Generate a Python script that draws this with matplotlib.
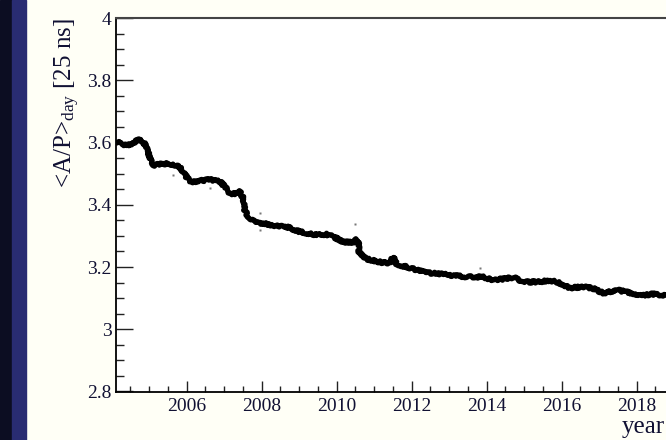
import matplotlib
matplotlib.use('Agg')
import matplotlib.pyplot as plt
from matplotlib.ticker import MultipleLocator, FuncFormatter
from matplotlib.patches import Rectangle

plt.rcParams['font.family'] = ['Liberation Serif', 'DejaVu Serif']
plt.rcParams['mathtext.fontset'] = 'custom'
plt.rcParams['mathtext.rm'] = 'Liberation Serif'
plt.rcParams['mathtext.it'] = 'Liberation Serif:italic'

# daily mean A/P
years = [2004.11, 2004.25, 2004.40, 2004.55, 2004.65, 2004.72, 2004.84, 2004.93,
         2005.02, 2005.11, 2005.30, 2005.50, 2005.70, 2005.80, 2005.91, 2006.02,
         2006.13, 2006.35, 2006.62, 2006.89, 2007.02, 2007.15, 2007.33, 2007.42,
         2007.51, 2007.55, 2007.64, 2007.78, 2007.95, 2008.31, 2008.67, 2009.02,
         2009.38, 2009.73, 2009.91, 2010.18, 2010.44, 2010.53, 2010.57, 2010.60,
         2010.71, 2010.80, 2011.15, 2011.42, 2011.50, 2011.60, 2011.69, 2012.04,
         2012.40, 2012.58, 2013.02, 2013.47, 2013.91, 2014.18, 2014.53, 2014.71,
         2014.98, 2015.33, 2015.69, 2015.87, 2016.22, 2016.58, 2016.84, 2017.11,
         2017.47, 2017.73, 2018.09, 2018.44, 2018.78, 2018.95]
ap_day = [3.605, 3.595, 3.590, 3.597, 3.605, 3.612, 3.602, 3.586,
          3.549, 3.527, 3.530, 3.533, 3.527, 3.522, 3.506, 3.485,
          3.472, 3.477, 3.481, 3.474, 3.458, 3.436, 3.436, 3.442,
          3.420, 3.383, 3.361, 3.350, 3.342, 3.334, 3.329, 3.313,
          3.305, 3.305, 3.297, 3.281, 3.278, 3.288, 3.285, 3.248,
          3.232, 3.226, 3.216, 3.211, 3.232, 3.210, 3.206, 3.194,
          3.181, 3.180, 3.174, 3.168, 3.168, 3.158, 3.163, 3.167,
          3.152, 3.152, 3.157, 3.152, 3.133, 3.136, 3.131, 3.116,
          3.126, 3.120, 3.109, 3.113, 3.109, 3.108]

# isolated days away from the band
out_years = [2005.63, 2006.62, 2007.95, 2007.95, 2010.49, 2013.82]
out_ap = [3.497, 3.453, 3.375, 3.320, 3.338, 3.198]

fig = plt.figure(figsize=(6.66, 4.40), dpi=100, facecolor='#fffff6')

# slide border on the left
fig.patches.append(Rectangle((0, 0), 12 / 666, 1, transform=fig.transFigure,
                             color='#0c0d22', zorder=0))
fig.patches.append(Rectangle((12 / 666, 0), 14 / 666, 1, transform=fig.transFigure,
                             color='#292c72', zorder=0))

ax = fig.add_axes([115.7 / 666, 48.5 / 440, 556.6 / 666, 373.5 / 440])
ax.set_facecolor('white')

line, = ax.plot(years, ap_day, color='black', lw=3.8, solid_joinstyle='round',
                solid_capstyle='butt')
line.set_sketch_params(scale=1.2, length=2.0, randomness=6)
ax.plot(out_years, out_ap, 's', ms=1.8, color='#777777', mec='none')

ax.set_xlim(2004.107, 2018.95)
ax.set_ylim(2.8, 4.0)

ax.xaxis.set_major_locator(MultipleLocator(2))
ax.xaxis.set_minor_locator(MultipleLocator(0.5))
ax.yaxis.set_major_locator(MultipleLocator(0.2))
ax.yaxis.set_minor_locator(MultipleLocator(0.05))
ax.yaxis.set_major_formatter(FuncFormatter(lambda v, p: '%g' % round(v, 2)))

ax.tick_params(axis='both', which='both', direction='in', color='#222222',
               width=1.0, labelcolor='#111133', labelsize=14)
ax.tick_params(axis='x', which='major', length=8, pad=5)
ax.tick_params(axis='x', which='minor', length=4)
ax.tick_params(axis='y', which='major', length=12, pad=3)
ax.tick_params(axis='y', which='minor', length=6)

for s in ['left', 'bottom']:
    ax.spines[s].set_color('black')
    ax.spines[s].set_linewidth(1.3)
ax.spines['top'].set_color('#444444')
ax.spines['top'].set_linewidth(1.5)
ax.spines['right'].set_visible(False)

fig.text(53 / 666, 1 - 18 / 440, r'<A/P>$_{\mathrm{day}}$ [25 ns]', rotation=90,
         ha='left', va='top', fontsize=18, color='#111133')
fig.text(665 / 666, 7 / 440, 'year', ha='right', va='baseline', fontsize=18,
         color='#111133')

fig.savefig('out.png', dpi=100, facecolor=fig.get_facecolor())
